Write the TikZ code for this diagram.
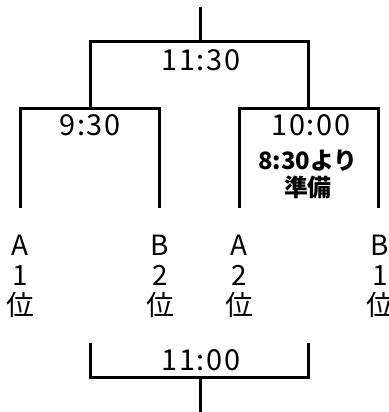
\documentclass[tikz,border=0pt]{standalone}
\usepackage{fontspec}
\setmainfont{Noto Sans CJK JP}
\tikzset{
  time/.style={font=\fontsize{29}{29}\selectfont\addfontfeature{LetterSpace=6}},
  team/.style={font=\fontsize{28}{30}\selectfont, align=center},
  prep/.style={font=\fontsize{24}{27}\selectfont\bfseries, align=center}
}
\begin{document}
\begin{tikzpicture}  % ------ Tournoi : 4 equipes, finale 11:30 -----------
      [x=1bp, y=-1bp, line width=3bp]
    \useasboundingbox (0,0) rectangle (389,412);
    \coordinate (T0) at (200,7);    
    \coordinate (T1) at (200,41);
    \coordinate (L1) at (90,41);  
    \coordinate (R1) at (308,41);  
    \coordinate (L2) at (90,108);
    \coordinate (R2) at (308,108);
    \coordinate (LA) at (20,108);  
    \coordinate (LB) at (159,108);
    \coordinate (RA) at (239,108);
    \coordinate (RB) at (378,108);
    \coordinate (LAe) at (20,208);  
    \coordinate (LBe) at (159,208);
    \coordinate (RAe) at (239,208);
    \coordinate (RBe) at (378,208);
    \draw (T0) -- (T1) ; \draw (L2) -- (L1) -- (R1) -- (R2) ; 
    \draw (LAe) -- (LA) -- (LB) -- (LBe) ;
    \draw (RAe) -- (RA) -- (RB) -- (RBe) ;
    \node[time] (final) at (201,60) {11:30} ;
    \node[time] (semi1) at (90,125) {9:30} ;
    \node[time] (semi2) at (311,125) {10:00} ;
    \node[prep] (prep) at (308,174) {8:30より\\準備} ;
    % equipes
    \node[team] (a1) at (20,276) {A\\1\\位} ;
    \node[team] (b2) at (160,276) {B\\2\\位} ;
    \node[team] (a2) at (239,276) {A\\2\\位} ;
    \node[team] (b1) at (380,276) {B\\1\\位} ;
    % ------ 3e place -----------
    \coordinate (D1) at (90,343);
    \coordinate (D2) at (90,377);
    \coordinate (D3) at (308,377);
    \coordinate (D4) at (308,343);
    \coordinate (D5) at (200,377);
    \coordinate (D6) at (200,412);
    \draw (D1) -- (D2) -- (D3) -- (D4) ; \draw (D5) -- (D6) ;
    \node[time] (third) at (201,360) {11:00} ;
\end{tikzpicture}
\end{document}
